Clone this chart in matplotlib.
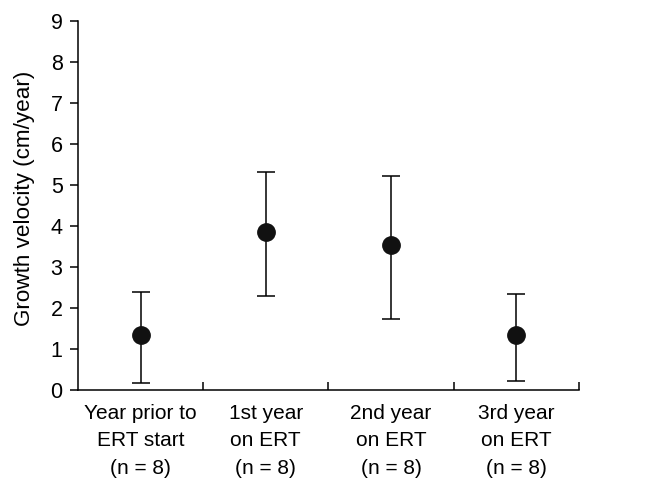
import numpy as np
import matplotlib.pyplot as plt

plt.rcParams['font.family'] = ['Liberation Sans', 'DejaVu Sans']

# Growth velocity per period, mean with lower/upper whisker values
periods = ["Year prior to\nERT start\n(n = 8)",
           "1st year\non ERT\n(n = 8)",
           "2nd year\non ERT\n(n = 8)",
           "3rd year\non ERT\n(n = 8)"]
mean_velocity = [1.33, 3.85, 3.54, 1.33]
lower_bound = [0.18, 2.29, 1.73, 0.22]
upper_bound = [2.38, 5.32, 5.23, 2.34]


def main():
    fig = plt.figure(figsize=(6.49, 4.79), dpi=100)
    ax = fig.add_axes([0.120, 0.186, 0.772, 0.770])

    x = np.arange(len(periods))
    mean = np.array(mean_velocity)
    yerr = [mean - np.array(lower_bound), np.array(upper_bound) - mean]
    ax.errorbar(x, mean, yerr=yerr, fmt="o", color="#111111", ecolor="black",
                markersize=12.5, elinewidth=1.1, capsize=6.5, capthick=1.1)

    ax.set_xlim(-0.5, len(periods) - 0.5)
    ax.set_ylim(0, 9)
    ax.set_yticks(range(10))
    ax.set_xticks(x)
    ax.set_xticklabels(periods, fontsize=15, linespacing=1.58)
    ax.set_xticks(x + 0.5, minor=True)
    ax.tick_params(axis="x", which="major", length=0, pad=10)
    ax.tick_params(axis="x", which="minor", length=6, width=1.1, direction="in")
    ax.tick_params(axis="y", length=6, width=1.1, labelsize=15.5, pad=5)

    for side in ("top", "right"):
        ax.spines[side].set_visible(False)
    for side in ("left", "bottom"):
        ax.spines[side].set_linewidth(1.1)

    ax.set_ylabel("Growth velocity (cm/year)", fontsize=16.2)
    ax.yaxis.set_label_coords(-0.086, 0.52)

    fig.savefig("out.png", dpi=100)


if __name__ == "__main__":
    main()
